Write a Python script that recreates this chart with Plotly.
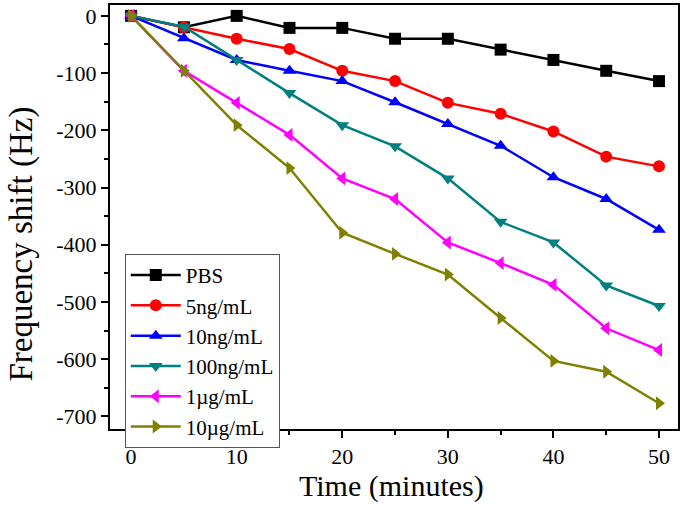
import plotly.graph_objects as go

time_min = [0, 5, 10, 15, 20, 25, 30, 35, 40, 45, 50]

pbs = [0, -20, 0, -21, -21, -40, -40, -59, -77, -96, -114]
ng5 = [0, -20, -40, -58, -96, -114, -152, -171, -202, -246, -263]
ng10 = [0, -39, -77, -96, -114, -151, -189, -227, -282, -320, -374]
ng100 = [0, -19, -77, -135, -191, -228, -284, -360, -396, -471, -507]
ug1 = [0, -96, -152, -208, -284, -320, -396, -432, -470, -546, -584]
ug10 = [0, -96, -191, -266, -379, -416, -452, -528, -603, -622, -677]

names = ['PBS', '5ng/mL', '10ng/mL', '100ng/mL', '1\u00b5g/mL', '10\u00b5g/mL']
colors = ['#000000', '#ff0000', '#0000ff', '#008080', '#ff00ff', '#808000']
symbols = ['square', 'circle', 'triangle-up', 'triangle-down', 'triangle-left', 'triangle-right']

y_ticks = [0, -100, -200, -300, -400, -500, -600, -700]
x_ticks = [0, 10, 20, 30, 40, 50]

font_name = 'Liberation Serif, Times New Roman, serif'

fig = go.Figure()
for name, vals, col, sym in zip(names, [pbs, ng5, ng10, ng100, ug1, ug10], colors, symbols):
    fig.add_trace(go.Scatter(
        x=time_min, y=vals, name=name, mode='lines+markers',
        line=dict(color=col, width=2.5),
        marker=dict(symbol=sym, size=12, color=col)
    ))

axis_common = dict(
    showline=True, linecolor='black', linewidth=2, mirror=True,
    ticks='outside', ticklen=7, tickwidth=2, tickcolor='black',
    showgrid=False, zeroline=False, automargin=False,
    tickfont=dict(family=font_name, size=22, color='black'),
)

fig.update_xaxes(
    range=[-2, 51.8], tickvals=x_ticks,
    minor=dict(dtick=5, ticks='outside', ticklen=4, tickwidth=2, tickcolor='black'),
    **axis_common
)
fig.update_yaxes(
    range=[-722, 19], tickvals=y_ticks, ticktext=[str(v) for v in y_ticks],
    minor=dict(dtick=50, ticks='outside', ticklen=4, tickwidth=2, tickcolor='black'),
    **axis_common
)

# axis titles as annotations so they sit where the original puts them
fig.add_annotation(
    text='Time (minutes)', xref='paper', yref='paper', x=0.495, y=-0.089,
    xanchor='center', yanchor='top', showarrow=False,
    font=dict(family=font_name, size=30, color='black')
)
fig.add_annotation(
    text='Frequency shift (Hz)', xref='paper', yref='paper', x=-0.156, y=0.436,
    xanchor='center', yanchor='middle', showarrow=False, textangle=-90,
    font=dict(family=font_name, size=33, color='black')
)

fig.update_layout(
    width=685, height=505,
    margin=dict(l=110, r=7, t=5, b=76),
    plot_bgcolor='white', paper_bgcolor='white',
    legend=dict(
        x=0.026, y=0.413, xanchor='left', yanchor='top',
        font=dict(family=font_name, size=21, color='black'),
        bordercolor='#555555', borderwidth=1, bgcolor='white',
        tracegroupgap=0, itemwidth=50,
    ),
)

# page body has a default 8px margin; drop it so the figure sits at the corner
fig.write_html('out.html', config={'displayModeBar': False},
               post_script="document.body.style.margin='0';")
